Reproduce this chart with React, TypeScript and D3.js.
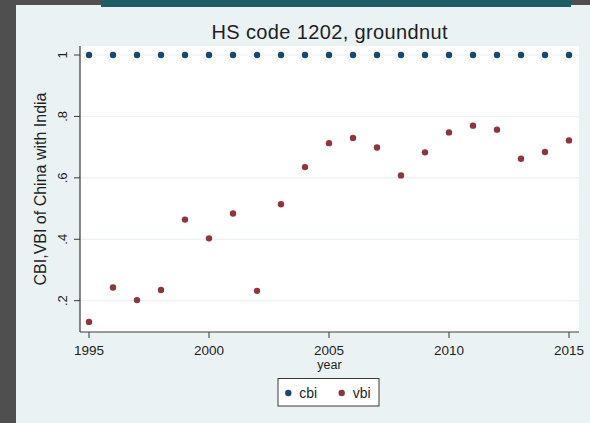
import React, { useEffect, useRef } from "react";
import * as d3 from "d3";

const years = [1995, 1996, 1997, 1998, 1999, 2000, 2001, 2002, 2003, 2004, 2005, 2006, 2007, 2008, 2009, 2010, 2011, 2012, 2013, 2014, 2015];
const cbi = [1, 1, 1, 1, 1, 1, 1, 1, 1, 1, 1, 1, 1, 1, 1, 1, 1, 1, 1, 1, 1];
const vbi = [0.131, 0.243, 0.202, 0.235, 0.464, 0.403, 0.484, 0.232, 0.514, 0.635, 0.713, 0.73, 0.699, 0.608, 0.683, 0.748, 0.77, 0.757, 0.662, 0.684, 0.722];
const xTicks = [1995, 2000, 2005, 2010, 2015];
const yTicks = [0.2, 0.4, 0.6, 0.8, 1];
const yTickLabels = [".2", ".4", ".6", ".8", "1"];
const title = "HS code 1202, groundnut";
const xTitle = "year";
const yTitle = "CBI,VBI of China with India";
const seriesNames = ["cbi", "vbi"];

const W = 590;
const H = 423;
const FONT = "'Liberation Sans', Arial, sans-serif";
const NAVY = "#1a476f";
const MAROON = "#90353b";
const TEXT = "#1e1e24";

export default function App() {
  const ref = useRef<SVGSVGElement>(null);

  useEffect(() => {
    const svg = d3.select(ref.current);
    svg.selectAll("*").remove();

    const plot = { left: 80, right: 579, top: 46, bottom: 332 };
    const x = d3.scaleLinear().domain([1995, 2015]).range([89, 569]);
    const y = d3.scaleLinear().domain([0.2, 1]).range([300.7, 55]);

    // background frame
    svg.append("rect").attr("x", 0).attr("y", 0).attr("width", W).attr("height", H).attr("fill", "#4f4f4f");
    svg.append("rect").attr("x", 16).attr("y", 5).attr("width", W - 16).attr("height", H - 5).attr("fill", "#eaf2f3");
    svg.append("rect").attr("x", 101).attr("y", 0).attr("width", 470).attr("height", 7).attr("fill", "#215d67");

    // plot region
    svg.append("rect")
      .attr("x", plot.left).attr("y", plot.top)
      .attr("width", plot.right - plot.left).attr("height", plot.bottom - plot.top)
      .attr("fill", "#ffffff");

    // grid
    svg.append("g").selectAll("line").data(yTicks).join("line")
      .attr("x1", plot.left).attr("x2", plot.right)
      .attr("y1", (d) => y(d)).attr("y2", (d) => y(d))
      .attr("stroke", "#eaf2f3").attr("stroke-width", 1.2);

    // axes
    const axisColor = "#3a3a3a";
    svg.append("line").attr("x1", plot.left).attr("x2", plot.left).attr("y1", plot.top).attr("y2", plot.bottom)
      .attr("stroke", axisColor).attr("stroke-width", 1.2);
    svg.append("line").attr("x1", plot.left).attr("x2", plot.right).attr("y1", plot.bottom).attr("y2", plot.bottom)
      .attr("stroke", axisColor).attr("stroke-width", 1.2);

    const yt = svg.append("g");
    yt.selectAll("line").data(yTicks).join("line")
      .attr("x1", plot.left - 6).attr("x2", plot.left)
      .attr("y1", (d) => y(d)).attr("y2", (d) => y(d))
      .attr("stroke", axisColor).attr("stroke-width", 1);
    yt.selectAll("text").data(yTicks).join("text")
      .attr("transform", (d) => `translate(67,${y(d)}) rotate(-90)`)
      .attr("text-anchor", "middle")
      .attr("font-family", FONT).attr("font-size", 13).attr("fill", TEXT)
      .text((d, i) => yTickLabels[i]);

    const xt = svg.append("g");
    xt.selectAll("line").data(xTicks).join("line")
      .attr("x1", (d) => x(d)).attr("x2", (d) => x(d))
      .attr("y1", plot.bottom).attr("y2", plot.bottom + 6)
      .attr("stroke", axisColor).attr("stroke-width", 1);
    xt.selectAll("text").data(xTicks).join("text")
      .attr("x", (d) => x(d)).attr("y", 354.5)
      .attr("text-anchor", "middle")
      .attr("font-family", FONT).attr("font-size", 13.5).attr("fill", TEXT)
      .text((d) => String(d));

    // titles
    svg.append("text").attr("x", (plot.left + plot.right) / 2).attr("y", 38.5)
      .attr("text-anchor", "middle").attr("font-family", FONT).attr("font-size", 20).attr("fill", TEXT)
      .attr("textLength", 236).attr("lengthAdjust", "spacing")
      .text(title);
    svg.append("text").attr("x", (plot.left + plot.right) / 2).attr("y", 368.5)
      .attr("text-anchor", "middle").attr("font-family", FONT).attr("font-size", 12.5).attr("fill", TEXT)
      .text(xTitle);
    svg.append("text")
      .attr("transform", `translate(45.5,${(plot.top + plot.bottom) / 2}) rotate(-90)`)
      .attr("text-anchor", "middle").attr("font-family", FONT).attr("font-size", 16).attr("fill", TEXT)
      .text(yTitle);

    // points
    svg.append("g").selectAll("circle").data(years).join("circle")
      .attr("cx", (d) => x(d)).attr("cy", (d, i) => y(cbi[i])).attr("r", 3.2).attr("fill", NAVY);
    svg.append("g").selectAll("circle").data(years).join("circle")
      .attr("cx", (d) => x(d)).attr("cy", (d, i) => y(vbi[i])).attr("r", 3.2).attr("fill", MAROON);

    // legend
    const lg = svg.append("g");
    lg.append("rect").attr("x", 278).attr("y", 378.5).attr("width", 101).attr("height", 27.5)
      .attr("fill", "#ffffff").attr("stroke", "#3a3a3a").attr("stroke-width", 1);
    const colors = [NAVY, MAROON];
    const dotX = [288.3, 341.7];
    seriesNames.forEach((name, i) => {
      lg.append("circle").attr("cx", dotX[i]).attr("cy", 393).attr("r", 3.2).attr("fill", colors[i]);
      lg.append("text").attr("x", dotX[i] + 11).attr("y", 398)
        .attr("font-family", FONT).attr("font-size", 14).attr("fill", TEXT).text(name);
    });
  }, []);

  return (
    <div style={{ position: "fixed", left: 0, top: 0 }}>
      <svg ref={ref} width={W} height={H} style={{ display: "block" }} />
    </div>
  );
}
